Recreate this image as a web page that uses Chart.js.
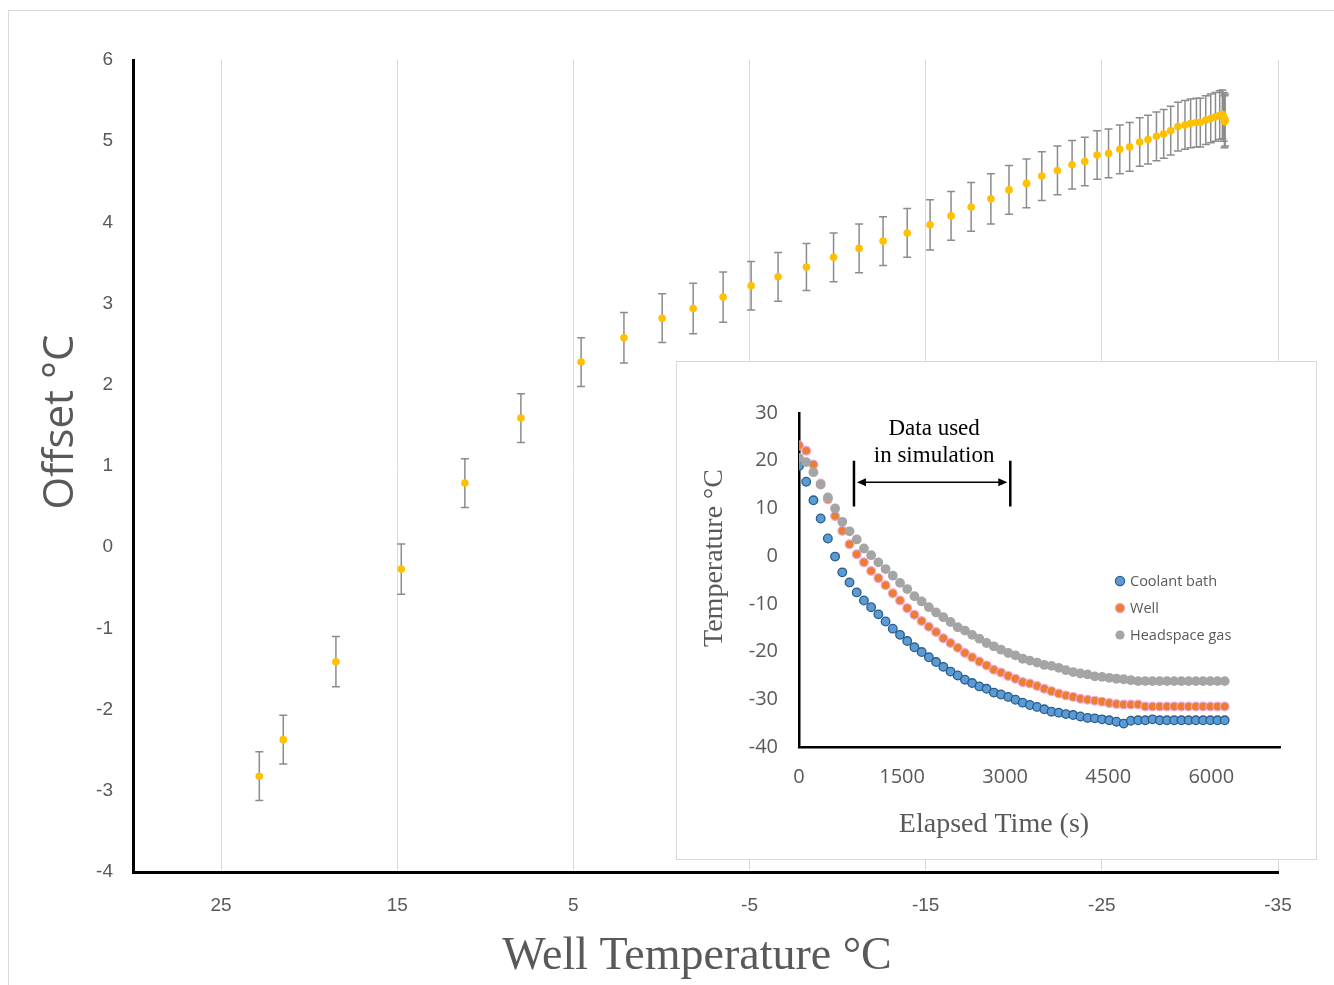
<!DOCTYPE html>
<html>
<head>
<meta charset="utf-8">
<title>Offset vs well temperature</title>
<script src="https://cdn.jsdelivr.net/npm/chart.js@4.4.1/dist/chart.umd.min.js"></script>
<style>
  html, body { margin: 0; padding: 0; background: #fff; width: 1334px; height: 985px; overflow: hidden; }
  #frame { position: absolute; left: 8px; top: 10px; width: 1400px; height: 1100px; border: 1px solid #d9d9d9; }
  #main { position: absolute; left: 0; top: 0; }
  #insetBox { position: absolute; left: 676px; top: 361px; width: 639px; height: 497px; border: 1px solid #d9d9d9; background: #fff; }
  #inset { display: block; }
</style>
</head>
<body>
<div id="frame"></div>
<canvas id="main" width="1334" height="985"></canvas>
<div id="insetBox"><canvas id="inset" width="639" height="497"></canvas></div>

<script>
// --- main chart: offset vs well temperature ---
const wellTemp = [22.83, 21.47, 18.48, 14.77, 11.16, 7.98, 4.56, 2.13, -0.04, -1.80,
  -3.50, -5.09, -6.62, -8.23, -9.77, -11.22, -12.58, -13.95, -15.25, -16.44,
  -17.58, -18.70, -19.73, -20.72, -21.59, -22.48, -23.31, -24.03, -24.73, -25.38,
  -26.02, -26.58, -27.15, -27.62, -28.10, -28.51, -28.91, -29.32, -29.72, -30.04,
  -30.37, -30.59, -30.90, -31.18, -31.45, -31.69, -31.84, -31.96, -32.00, -31.92];
const offsetC = [-2.82, -2.37, -1.41, -0.27, 0.79, 1.59, 2.28, 2.58, 2.82, 2.94,
  3.08, 3.22, 3.33, 3.45, 3.57, 3.68, 3.77, 3.87, 3.97, 4.08,
  4.19, 4.29, 4.40, 4.48, 4.57, 4.64, 4.71, 4.75, 4.83, 4.85,
  4.90, 4.93, 4.99, 5.02, 5.06, 5.09, 5.13, 5.18, 5.20, 5.22,
  5.23, 5.23, 5.26, 5.28, 5.30, 5.32, 5.33, 5.24, 5.26, 5.30];
const offsetErr = [0.30, 0.30, 0.31, 0.31, 0.30, 0.30, 0.30, 0.31, 0.30, 0.31,
  0.31, 0.30, 0.30, 0.29, 0.30, 0.30, 0.30, 0.30, 0.31, 0.30,
  0.30, 0.31, 0.30, 0.30, 0.30, 0.30, 0.30, 0.30, 0.30, 0.30,
  0.30, 0.30, 0.30, 0.30, 0.30, 0.30, 0.30, 0.30, 0.30, 0.30,
  0.30, 0.30, 0.30, 0.30, 0.30, 0.30, 0.30, 0.32, 0.32, 0.30];
const mainXTicks = [25, 15, 5, -5, -15, -25, -35];

// --- inset: cooling curves ---
const elapsed = [0, 105, 210, 315, 420, 525, 630, 735, 840, 945,
  1050, 1155, 1260, 1365, 1470, 1575, 1680, 1785, 1890, 1995,
  2100, 2205, 2310, 2415, 2520, 2625, 2730, 2835, 2940, 3045,
  3150, 3255, 3360, 3465, 3570, 3675, 3780, 3885, 3990, 4095,
  4200, 4305, 4410, 4515, 4620, 4725, 4830, 4935, 5040, 5145,
  5250, 5355, 5460, 5565, 5670, 5775, 5880, 5985, 6090, 6195];
const coolantBath = [18.9, 15.6, 11.7, 7.9, 3.7, -0.1, -3.4, -5.5, -7.6, -9.3,
  -10.7, -12.2, -13.7, -15.2, -16.5, -17.8, -19.1, -20.1, -21.2, -22.2,
  -23.2, -24.2, -25.0, -25.9, -26.6, -27.3, -27.8, -28.6, -29.0, -29.5,
  -30.1, -30.7, -31.2, -31.6, -32.1, -32.6, -32.8, -33.1, -33.3, -33.6,
  -33.9, -34.0, -34.2, -34.4, -34.7, -35.1, -34.5, -34.4, -34.4, -34.2,
  -34.4, -34.4, -34.4, -34.4, -34.4, -34.4, -34.4, -34.4, -34.4, -34.4];
const wellSeries = [23.2, 22.1, 19.2, 15.2, 11.9, 8.4, 5.3, 2.5, 0.4, -1.3,
  -3.1, -4.6, -6.1, -7.8, -9.3, -10.9, -12.3, -13.6, -14.8, -15.9,
  -17.2, -18.2, -19.2, -20.3, -21.2, -22.1, -22.9, -23.8, -24.4, -25.1,
  -25.7, -26.4, -26.7, -27.2, -27.8, -28.3, -28.8, -29.2, -29.5, -29.9,
  -30.1, -30.3, -30.5, -30.8, -31.0, -31.1, -31.1, -31.1, -31.5, -31.5,
  -31.5, -31.5, -31.5, -31.5, -31.5, -31.5, -31.5, -31.5, -31.5, -31.5];
const headspaceGas = [20.6, 19.7, 17.6, 15.0, 12.3, 10.0, 7.2, 5.2, 3.5, 1.6,
  0.2, -1.3, -2.7, -4.1, -5.6, -6.9, -8.4, -9.5, -10.7, -11.8,
  -12.8, -13.8, -14.9, -15.6, -16.5, -17.3, -18.2, -18.9, -19.6, -20.3,
  -20.8, -21.5, -21.9, -22.3, -22.8, -23.0, -23.4, -23.9, -24.3, -24.6,
  -24.8, -25.2, -25.3, -25.5, -25.7, -25.8, -26.0, -26.2, -26.2, -26.2,
  -26.2, -26.2, -26.2, -26.2, -26.2, -26.2, -26.2, -26.2, -26.2, -26.2];
const insetXTicks = [0, 1500, 3000, 4500, 6000];
const simWindow = [800, 3075];      // s, "data used in simulation"
const simMarker = [10.4, 15.5, 20.0]; // bar bottom, arrow level, bar top (°C)

const tickGrey = '#595959';

// error bars drawn under the markers
const errorBars = {
  id: 'errorBars',
  beforeDatasetsDraw(chart) {
    const { ctx, scales: { x, y } } = chart;
    ctx.save();
    ctx.strokeStyle = '#8c8c8c';
    ctx.lineWidth = 1.5;
    wellTemp.forEach((t, i) => {
      const px = x.getPixelForValue(t);
      const top = y.getPixelForValue(offsetC[i] + offsetErr[i]);
      const bot = y.getPixelForValue(offsetC[i] - offsetErr[i]);
      ctx.beginPath();
      ctx.moveTo(px, top); ctx.lineTo(px, bot);
      ctx.moveTo(px - 4, top); ctx.lineTo(px + 4, top);
      ctx.moveTo(px - 4, bot); ctx.lineTo(px + 4, bot);
      ctx.stroke();
    });
    ctx.restore();
  }
};

// axis titles of the main chart (placed like the original, not centred on the axis)
const mainTitles = {
  id: 'mainTitles',
  afterDraw(chart) {
    const ctx = chart.ctx;
    ctx.save();
    ctx.fillStyle = tickGrey;
    ctx.textAlign = 'center';
    ctx.textBaseline = 'alphabetic';
    ctx.font = '46px "Liberation Serif"';
    ctx.fillText('Well Temperature °C', 697, 969);
    ctx.translate(73, 422);
    ctx.rotate(-Math.PI / 2);
    ctx.font = '42px "Open Sans"';
    ctx.fillText('Offset °C', 0, 0);
    ctx.restore();
  }
};

new Chart(document.getElementById('main'), {
  type: 'scatter',
  data: {
    datasets: [{
      label: 'Offset',
      data: wellTemp.map((t, i) => ({ x: t, y: offsetC[i] })),
      pointRadius: 3.8,
      pointBackgroundColor: '#FFC000',
      pointBorderWidth: 0
    }]
  },
  options: {
    responsive: false,
    animation: false,
    events: [],
    layout: { padding: { top: 60, right: 56, bottom: 0, left: 0 } },
    plugins: { legend: { display: false }, tooltip: { enabled: false } },
    scales: {
      x: {
        type: 'linear',
        min: -35, max: 30,
        reverse: true,
        afterBuildTicks: s => { s.ticks = mainXTicks.map(v => ({ value: v })); },
        afterFit: s => { s.height = 113; },
        grid: { color: '#d9d9d9', lineWidth: 1, drawTicks: false },
        border: { display: true, color: '#000', width: 3 },
        ticks: { padding: 22, color: tickGrey, font: { family: 'Liberation Sans', size: 19 }, callback: v => String(v) }
      },
      y: {
        min: -4, max: 6,
        afterFit: s => { s.width = 133; },
        grid: { display: false, drawTicks: false },
        border: { display: true, color: '#000', width: 3 },
        ticks: { stepSize: 1, padding: 20, color: tickGrey, font: { family: 'Liberation Sans', size: 19 }, callback: v => String(v) }
      }
    }
  },
  plugins: [errorBars, mainTitles]
});

// inset extras: simulation window marker, legend, axis titles
const insetExtras = {
  id: 'insetExtras',
  afterDraw(chart) {
    const { ctx, scales: { x, y } } = chart;
    const x1 = x.getPixelForValue(simWindow[0]);
    const x2 = x.getPixelForValue(simWindow[1]);
    const yb = y.getPixelForValue(simMarker[0]);
    const ya = y.getPixelForValue(simMarker[1]);
    const yt = y.getPixelForValue(simMarker[2]);
    ctx.save();
    ctx.strokeStyle = '#000';
    ctx.fillStyle = '#000';
    ctx.lineWidth = 2.5;
    ctx.beginPath();
    ctx.moveTo(x1, yt); ctx.lineTo(x1, yb);
    ctx.moveTo(x2, yt); ctx.lineTo(x2, yb);
    ctx.stroke();
    ctx.lineWidth = 1.5;
    ctx.beginPath();
    ctx.moveTo(x1 + 6, ya); ctx.lineTo(x2 - 6, ya);
    ctx.stroke();
    // arrow heads
    ctx.beginPath();
    ctx.moveTo(x1 + 3, ya); ctx.lineTo(x1 + 12, ya - 4); ctx.lineTo(x1 + 12, ya + 4); ctx.closePath();
    ctx.moveTo(x2 - 3, ya); ctx.lineTo(x2 - 12, ya - 4); ctx.lineTo(x2 - 12, ya + 4); ctx.closePath();
    ctx.fill();

    ctx.textAlign = 'center';
    ctx.textBaseline = 'alphabetic';
    ctx.font = '23px "Liberation Serif"';
    const xm = (x1 + x2) / 2 + 2;
    ctx.fillText('Data used', xm, 73);
    ctx.fillText('in simulation', xm, 100);

    // legend
    const items = chart.data.datasets.slice().reverse();
    ctx.font = '14.5px "Open Sans"';
    ctx.textAlign = 'left';
    ctx.textBaseline = 'middle';
    items.forEach((ds, i) => {
      const cy = 219 + i * 27;
      ctx.beginPath();
      ctx.arc(443, cy, 4.6, 0, Math.PI * 2);
      ctx.fillStyle = ds.pointBackgroundColor;
      ctx.fill();
      if (ds.pointBorderWidth) {
        ctx.lineWidth = 1.2;
        ctx.strokeStyle = ds.pointBorderColor;
        ctx.stroke();
      }
      ctx.fillStyle = tickGrey;
      ctx.fillText(ds.label, 453, cy + 1);
    });

    // axis titles
    ctx.fillStyle = tickGrey;
    ctx.textAlign = 'center';
    ctx.textBaseline = 'alphabetic';
    ctx.font = '28px "Liberation Serif"';
    ctx.fillText('Elapsed Time (s)', 317, 470);
    ctx.translate(45, 196);
    ctx.rotate(-Math.PI / 2);
    ctx.fillText('Temperature °C', 0, 0);
    ctx.restore();
  }
};

const pts = arr => elapsed.map((t, i) => ({ x: t, y: arr[i] }));

new Chart(document.getElementById('inset'), {
  type: 'scatter',
  data: {
    datasets: [
      { label: 'Headspace gas', data: pts(headspaceGas), order: 0,
        pointRadius: 4.9, pointBackgroundColor: '#A5A5A5', pointBorderWidth: 0 },
      { label: 'Well', data: pts(wellSeries), order: 1,
        pointRadius: 4.4, pointBackgroundColor: '#ED7D31', pointBorderColor: '#EFA6D6', pointBorderWidth: 1.2 },
      { label: 'Coolant bath', data: pts(coolantBath), order: 2,
        pointRadius: 4.3, pointBackgroundColor: '#5B9BD5', pointBorderColor: '#2B5C8A', pointBorderWidth: 1.3 }
    ]
  },
  options: {
    responsive: false,
    animation: false,
    events: [],
    layout: { padding: { top: 51, right: 36, bottom: 0, left: 0 } },
    plugins: { legend: { display: false }, tooltip: { enabled: false } },
    scales: {
      x: {
        type: 'linear',
        min: 0, max: 7000,
        afterBuildTicks: s => { s.ticks = insetXTicks.map(v => ({ value: v })); },
        afterFit: s => { s.height = 112; },
        grid: { display: false, drawTicks: false },
        border: { display: true, color: '#000', width: 2.5 },
        ticks: { padding: 18, color: tickGrey, font: { family: 'Open Sans', size: 20 }, callback: v => String(v) }
      },
      y: {
        min: -40, max: 30,
        afterFit: s => { s.width = 122; },
        grid: { display: false, drawTicks: false },
        border: { display: true, color: '#000', width: 2.5 },
        ticks: { stepSize: 10, padding: 21, color: tickGrey, font: { family: 'Open Sans', size: 20 }, callback: v => String(v) }
      }
    }
  },
  plugins: [insetExtras]
});
</script>
</body>
</html>
